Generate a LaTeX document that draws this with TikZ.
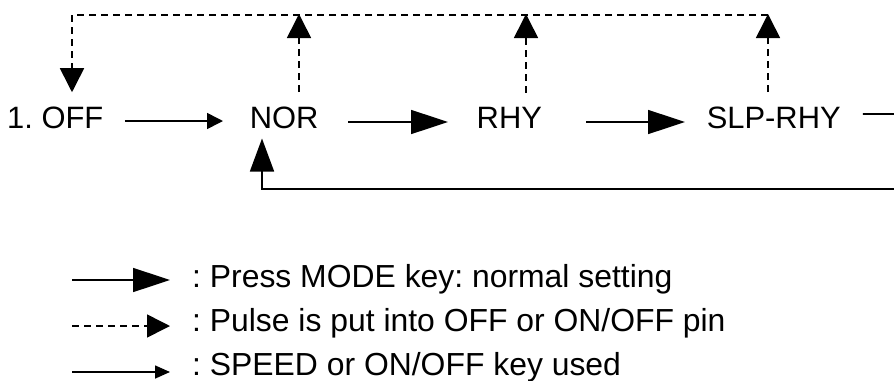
\documentclass[tikz,border=0pt]{standalone}
\usepackage{fontspec}
\setmainfont{Liberation Sans}
\frenchspacing
\usetikzlibrary{arrows.meta,calc}
\begin{document}
\begin{tikzpicture}[x=1bp,y=-1bp,
  ln/.style={line width=1.6bp},
  dl/.style={line width=1.6bp, dash pattern=on 7bp off 5bp},
  big/.style={-{Triangle[length=37bp,width=24bp]}},
  vtip/.style={-{Triangle[length=24bp,width=24bp]}},
  tall/.style={-{Triangle[length=33bp,width=24bp]}},
  small/.style={-{Triangle[length=16bp,width=16bp]}},
  st/.style={inner sep=0pt, anchor=base west, font=\fontsize{31}{37}\selectfont},
  lg/.style={inner sep=0pt, anchor=base west, font=\fontsize{32}{38}\selectfont}]
\useasboundingbox (0,0) rectangle (894,380);
% states
\node[st] (off) at (7,128) {1. OFF};
\node[st] (nor) at (249.6,128) {NOR};
\node[st] (rhy) at (476.5,128) {RHY};
\node[st] (slp) at (706.6,128) {SLP-RHY};
% helper coordinates
\coordinate (tl) at (72,15);
\coordinate (tn) at (299,15);
\coordinate (tr) at (526,15);
\coordinate (ts) at (768,15);
\coordinate (fb) at (262,189);
\coordinate (re) at (894,189);
\coordinate (se) at (894,114);
% horizontal arrows
\draw[ln,small] ([xshift=21.5bp,yshift=7bp]off.base east) -- ([xshift=-26.6bp,yshift=7bp]nor.base west);
\draw[ln,big] ([xshift=29.5bp,yshift=6bp]nor.base east) -- ([xshift=-28.5bp,yshift=6bp]rhy.base west);
\draw[ln,big] ([xshift=44bp,yshift=6bp]rhy.base east) -- ([xshift=-21.6bp,yshift=6bp]slp.base west);
\draw[ln] ([xshift=22bp,yshift=14bp]slp.base east) -- (se);
% feedback to NOR
\draw[ln,tall] (re) -- (fb) -- ([yshift=-10bp]fb |- nor.south);
% dashed top loop
\draw[dl,vtip] (ts) -- (tl) -- ([yshift=14bp]tl |- off.north);
\draw[dl,vtip] ([yshift=14bp]tn |- nor.north) -- ([yshift=1bp]tn);
\draw[dl,vtip] ([yshift=14bp]tr |- rhy.north) -- ([yshift=1bp]tr);
\draw[dl,vtip] ([yshift=14bp]ts |- slp.north) -- ([yshift=1bp]ts);
% legend
\node[lg] (l1) at (192,287) {: Press MODE key: normal setting};
\node[lg] (l2) at (192,331) {: Pulse is put into OFF or ON/OFF pin};
\node[lg] (l3) at (192,375) {: SPEED or ON/OFF key used};
\coordinate (a1) at (72,280);
\coordinate (a2) at (72,326);
\coordinate (a3) at (72,372);
\draw[ln,big] (a1) -- ([xshift=-22bp]a1 -| l1.west);
\draw[dl,-{Triangle[length=23bp,width=23bp]}] (a2) -- ([xshift=-22bp]a2 -| l2.west);
\draw[ln,-{Triangle[length=15bp,width=13bp]}] (a3) -- ([xshift=-22bp]a3 -| l3.west);
\end{tikzpicture}
\end{document}
